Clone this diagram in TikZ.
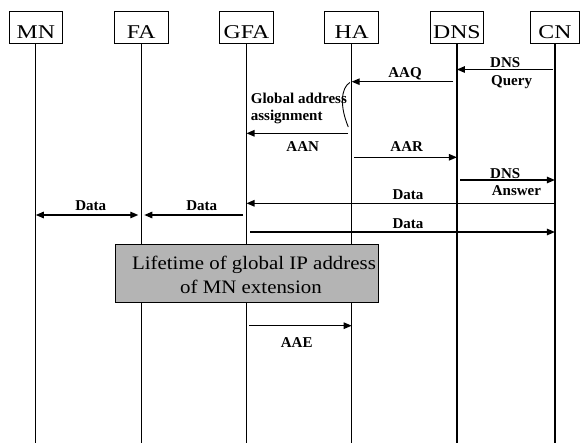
\documentclass[tikz,border=0pt]{standalone}
\usepackage{fontspec}
\usepackage{graphicx}
\setmainfont{Liberation Serif}
\newcommand{\wideA}[1]{\scalebox{1.22}[1]{#1}}
\newcommand{\wideB}[1]{\scalebox{1.1}[1]{#1}}
\usetikzlibrary{arrows.meta}
\definecolor{boxgray}{RGB}{180,180,180}
\begin{document}
\begin{tikzpicture}[x=1pt,y=-1pt,
  actor/.style={draw,line width=1pt,minimum width=53.5pt,minimum height=31.6pt,
    inner sep=0pt,text height=23pt,text depth=0pt,font=\fontsize{19.5}{20}\selectfont},
  life/.style={line width=1.2pt},
  msg/.style={line width=1.2pt,-{Triangle[length=8pt,width=6.5pt]}},
  dmsg/.style={line width=1.2pt,{Triangle[length=8pt,width=6.5pt]}-{Triangle[length=8pt,width=6.5pt]}},
  lbl/.style={font=\bfseries\fontsize{15}{16}\selectfont,inner sep=0pt,anchor=base},
  lbll/.style={lbl,anchor=base west},
  ltext/.style={font=\fontsize{19}{24}\selectfont,inner sep=0pt,anchor=base}]
\useasboundingbox (0,0) rectangle (580,443);
% actors
\node[actor] (MN)  at (35.8,27.5) {\wideA{MN}};
\node[actor] (FA)  at (141.3,27.5) {\wideA{FA}};
\node[actor] (GFA) at (246.5,27.5) {\wideA{GFA}};
\node[actor] (HA)  at (351.7,27.5) {\wideA{HA}};
\node[actor] (DNS) at (456.9,27.5) {\wideA{DNS}};
\node[actor,minimum width=49.5pt] (CN) at (554.9,27.5) {\wideA{CN}};
% lifelines
\foreach \a in {MN,FA,GFA,HA,DNS,CN}{
  \draw[life] (\a.south) -- (\a.south |- 0,443) coordinate (\a e);
}
% DNS query
\draw[msg,shorten <=2pt] (CN |- 0,69.5) -- (DNS |- 0,69.5);
\node[lbll] (q1) at (490,67.3) {DNS};
\node[lbll] (q2) at (491,85.3) {Query};
% AAQ
\draw[msg,shorten <=3.5pt] (DNS |- 0,81.7) -- (HA |- 0,81.7);
\node[lbl] (aaq) at (405,77.5) {AAQ};
% global address assignment
\node[lbll] (ga1) at (250.7,103.3) {Global address};
\node[lbll] (ga2) at (250.7,121) {assignment};
\draw[line width=0.9pt] (349.8,82.5) .. controls (341,88) and (339.5,106) .. (348.3,127);
% AAN
\draw[msg,shorten <=3.5pt] (HA |- 0,133.3) -- (GFA |- 0,133.3);
\node[lbl] (aan) at (302.7,151.7) {AAN};
% AAR
\draw[msg,shorten <=2.5pt] (HA |- 0,157.3) -- (DNS |- 0,157.3);
\node[lbl] (aar) at (406.7,151.7) {AAR};
% DNS answer
\draw[msg,shorten <=3.5pt] (DNS |- 0,180) -- (CN |- 0,180);
\node[lbll] (a1) at (490,178.3) {DNS};
\node[lbll] (a2) at (491.7,196) {Answer};
% Data CN -> GFA
\draw[msg] (CN |- 0,203.3) -- (GFA |- 0,203.3);
\node[lbl] (d1) at (408,199.3) {Data};
% Data MN <-> FA
\draw[dmsg,shorten >=3pt] (MN |- 0,215) -- (FA |- 0,215);
\node[lbl] (d2) at (90.7,210.7) {Data};
% Data GFA -> FA
\draw[msg,shorten <=3.5pt,shorten >=3pt] (GFA |- 0,215) -- (FA |- 0,215);
\node[lbl] (d3) at (201.7,210.7) {Data};
% Data GFA -> CN
\draw[msg,shorten <=3.5pt] (GFA |- 0,232) -- (CN |- 0,232);
\node[lbl] (d4) at (408,228.3) {Data};
% lifetime box
\node[draw,fill=boxgray,line width=1pt,minimum width=263pt,minimum height=58pt,inner sep=0pt] (lt) at (246.5,273.3) {};
\node[ltext] (lt1) at (254,269.3) {\wideB{Lifetime of global IP address}};
\node[ltext] (lt2) at (251,293.3) {\wideB{of MN extension}};
% AAE
\draw[msg,shorten <=2.5pt] (GFA |- 0,325.7) -- (HA |- 0,325.7);
\node[lbl] (aae) at (296.7,347.7) {AAE};
\end{tikzpicture}
\end{document}
